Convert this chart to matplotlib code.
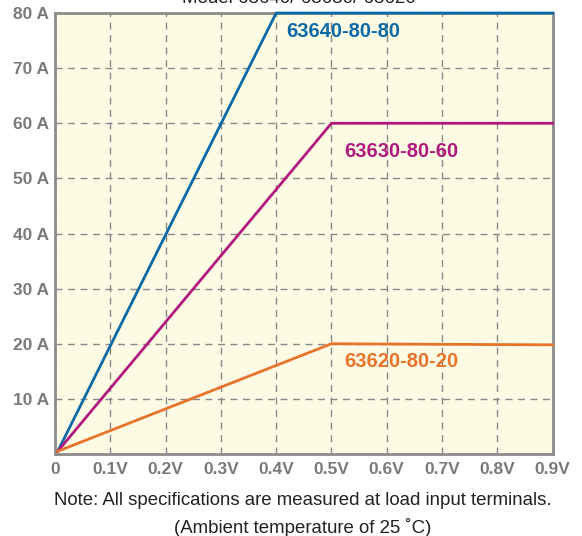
import numpy as np
import matplotlib.pyplot as plt

# 電圧 (V) と電流 (A)
v_63640 = [0.005, 0.4, 0.9]
a_63640 = [0.5, 80, 80]
v_63630 = [0.005, 0.5, 0.9]
a_63630 = [0.5, 60, 60]
v_63620 = [0.005, 0.5, 0.9]
a_63620 = [0.5, 20, 19.8]

x_ticks = [0, 0.1, 0.2, 0.3, 0.4, 0.5, 0.6, 0.7, 0.8, 0.9]
x_labels = ['0', '0.1V', '0.2V', '0.3V', '0.4V', '0.5V', '0.6V', '0.7V', '0.8V', '0.9V']
y_ticks = [10, 20, 30, 40, 50, 60, 70, 80]
y_labels = ['10 A', '20 A', '30 A', '40 A', '50 A', '60 A', '70 A', '80 A']

c_blue = '#0b6aa6'
c_mag = '#b01a7c'
c_org = '#e8742c'
c_gray = '#7a7a7a'

plt.rcParams['font.family'] = ['Liberation Sans', 'DejaVu Sans']

fig = plt.figure(figsize=(5.82, 5.36), dpi=100)
ax = fig.add_axes([0.0945, 0.153, 0.855, 0.8227])
ax.set_facecolor('#fefbe5')

ax.plot(v_63640, a_63640, color=c_blue, lw=2, clip_on=False, zorder=3)
ax.plot(v_63630, a_63630, color=c_mag, lw=2, clip_on=False, zorder=3)
ax.plot(v_63620, a_63620, color=c_org, lw=2, clip_on=False, zorder=3)

ax.text(0.419, 76.6, '63640-80-80', color=c_blue, fontsize=14.5, fontweight='bold', va='center')
ax.text(0.524, 54.8, '63630-80-60', color=c_mag, fontsize=14.5, fontweight='bold', va='center')
ax.text(0.524, 16.8, '63620-80-20', color=c_org, fontsize=14.5, fontweight='bold', va='center')

ax.set_xlim(0, 0.9)
ax.set_ylim(0, 80)
ax.set_xticks(x_ticks)
ax.set_xticklabels(x_labels)
ax.set_yticks(y_ticks)
ax.set_yticklabels(y_labels)
ax.tick_params(length=0, colors=c_gray, labelsize=12.5, pad=6)
for lab in ax.get_xticklabels() + ax.get_yticklabels():
    lab.set_fontweight('bold')
ax.tick_params(axis='y', pad=4)

ax.grid(True, color='#888888', ls=(0, (5, 4)), lw=1)
for s in ax.spines.values():
    s.set_color('#8c8c8c')
    s.set_linewidth(2)

# 上端で切れているタイトル
fig.text(0.513, 1.003, 'Model 63640/ 63630/ 63620', ha='center', va='center',
         fontsize=13.5, color='#222222')
fig.text(0.52, 0.067, 'Note: All specifications are measured at load input terminals.',
         ha='center', va='center', fontsize=13.4, color='#222222')
fig.text(0.52, 0.015, '(Ambient temperature of 25 \u02daC)',
         ha='center', va='center', fontsize=13.4, color='#222222')

fig.savefig('out.png', dpi=100)
